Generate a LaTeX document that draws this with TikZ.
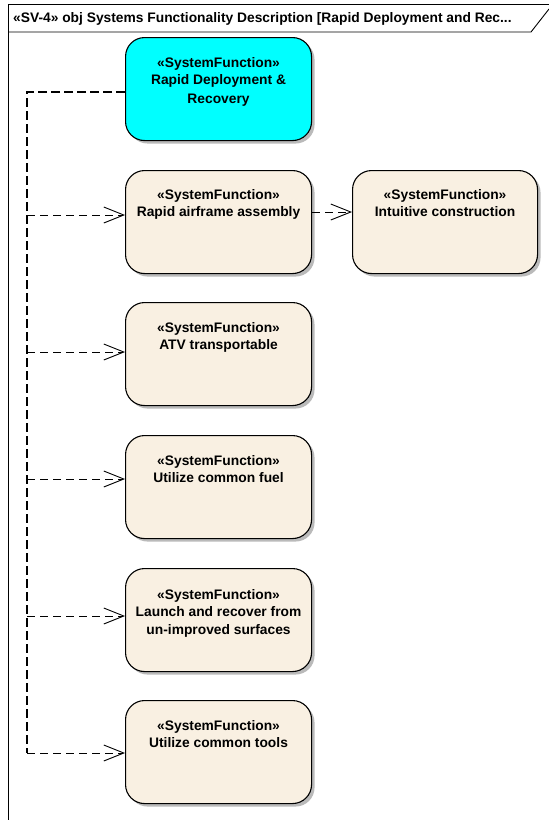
\documentclass[tikz,border=0pt]{standalone}
\usepackage{fontspec}
\setmainfont{Liberation Sans}
\usetikzlibrary{arrows.meta,shadows,calc}
\definecolor{fnfill}{RGB}{249,240,226}
\definecolor{fncyan}{RGB}{0,255,255}
\tikzset{
  x=1pt,y=-1pt,
  fnbox/.style={draw, line width=1.1pt, rounded corners=19pt, minimum width=186pt, minimum height=103pt,
    fill=fnfill, anchor=north west, inner sep=0pt,
    drop shadow={shadow xshift=3pt, shadow yshift=-3pt, fill=black!45, opacity=.6}},
  fntext/.style={anchor=north, align=center, inner sep=0pt, font=\bfseries\fontsize{13.8}{17.5}\selectfont},
  deptrunk/.style={line width=1.7pt, dash pattern=on 9pt off 4pt},
  dep/.style={line width=0.9pt, dash pattern=on 8pt off 5pt, -{Straight Barb[length=20pt,width=16pt,line width=0.9pt]}},
}
\begin{document}
\begin{tikzpicture}
\useasboundingbox (0,0) rectangle (549,820);
% frame
\draw[line width=0.9pt] (8,830) -- (8,4) -- (552,4);
\draw[line width=0.9pt] (8,32) -- (531,32) -- (549,9);
\node[anchor=base west, inner sep=0pt, font=\bfseries\fontsize{13.8}{15}\selectfont] (title) at (13,22)
  {«SV-4» obj Systems Functionality Description [Rapid Deployment and Rec...};
% boxes
\node[fnbox, fill=fncyan] (b0) at (125,37) {};
\node[fnbox] (b1) at (125,170) {};
\node[fnbox, minimum width=185pt] (bI) at (352,170) {};
\node[fnbox] (b2) at (125,302) {};
\node[fnbox] (b3) at (125,435) {};
\node[fnbox] (b4) at (125,568) {};
\node[fnbox] (b5) at (125,700) {};
% texts
\node[fntext] (t0) at ($(b0.north)+(0,20)$) {«SystemFunction»\\Rapid Deployment \&\\[1.5pt]Recovery};
\node[fntext] (t1) at ($(b1.north)+(0,19)$) {«SystemFunction»\\Rapid airframe assembly};
\node[fntext] (tI) at ($(bI.north)+(0,19)$) {«SystemFunction»\\Intuitive construction};
\node[fntext] (t2) at ($(b2.north)+(0,20)$) {«SystemFunction»\\ATV transportable};
\node[fntext] (t3) at ($(b3.north)+(0,20)$) {«SystemFunction»\\Utilize common fuel};
\node[fntext] (t4) at ($(b4.north)+(0,21)$) {«SystemFunction»\\Launch and recover from\\un-improved surfaces};
\node[fntext] (t5) at ($(b5.north)+(0,20)$) {«SystemFunction»\\Utilize common tools};
% trunk coordinates
\coordinate (k0) at (27,92);
\coordinate (k1) at (27,215);
\coordinate (k2) at (27,352);
\coordinate (k3) at (27,479);
\coordinate (k4) at (27,616);
\coordinate (k5) at (27,753);
% connectors
\draw[deptrunk] (b0.west |- k0) -- (k0) -- (k5);
\draw[dep] (k1) -- (b1.west |- k1);
\draw[dep] (k2) -- (b2.west |- k2);
\draw[dep] (k3) -- (b3.west |- k3);
\draw[dep] (k4) -- (b4.west |- k4);
\draw[dep] (k5) -- (b5.west |- k5);
\draw[dep] (b1.east |- 0,212) -- (bI.west |- 0,212);
\end{tikzpicture}
\end{document}
